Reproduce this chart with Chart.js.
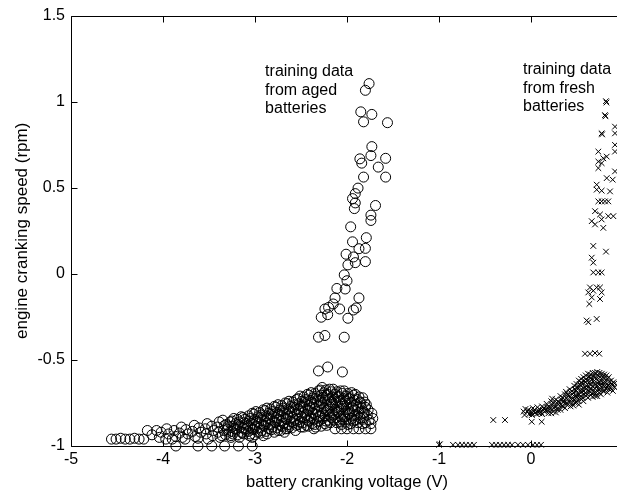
<!DOCTYPE html>
<html>
<head>
<meta charset="utf-8">
<script src="https://cdn.jsdelivr.net/npm/chart.js@4/dist/chart.umd.min.js"></script>
<style>
  html, body { margin: 0; padding: 0; overflow: hidden; background: #fff; }
  canvas { display: block; }
</style>
</head>
<body>
<canvas id="grafico" width="640" height="494"></canvas>
<script>
// --- Dados ---
const ticksX = [-5, -4, -3, -2, -1, 0, 1];
const ticksY = [-1, -0.5, 0, 0.5, 1, 1.5];

// baterias velhas: coluna vertical
const velhasColuna = [
  [-1.76, 1.105], [-1.80, 1.066], [-1.85, 0.941], [-1.73, 0.926], [-1.82, 0.883], [-1.56, 0.878],
  [-1.73, 0.739], [-1.74, 0.687], [-1.86, 0.668], [-1.58, 0.671], [-1.84, 0.643], [-1.66, 0.620],
  [-1.58, 0.562], [-1.82, 0.562], [-1.88, 0.498], [-1.91, 0.466], [-1.94, 0.437], [-1.91, 0.412],
  [-1.92, 0.379], [-1.69, 0.397], [-1.74, 0.341], [-1.74, 0.310], [-1.96, 0.273], [-1.79, 0.210],
  [-1.94, 0.186], [-1.87, 0.146], [-1.80, 0.148], [-2.01, 0.114], [-1.93, 0.098], [-1.99, 0.052],
  [-1.91, 0.065], [-1.80, 0.071], [-2.03, -0.006], [-2.00, -0.040], [-2.02, -0.088], [-2.11, -0.085],
  [-1.87, -0.140], [-2.13, -0.140], [-2.15, -0.175], [-2.20, -0.195], [-2.24, -0.204], [-2.08, -0.204],
  [-1.90, -0.198], [-1.93, -0.210], [-2.21, -0.237], [-2.28, -0.252], [-1.99, -0.258], [-2.31, -0.368],
  [-2.24, -0.358], [-2.03, -0.368], [-2.31, -0.564], [-2.21, -0.541], [-2.05, -0.570]
];

// baterias velhas: faixa densa embaixo
const velhasFaixa = [
  [-4.56, -0.96], [-4.51, -0.96], [-4.46, -0.955], [-4.41, -0.96], [-4.36, -0.96], [-4.31, -0.955],
  [-4.26, -0.96], [-4.21, -0.96], [-4.17, -0.91], [-4.07, -0.91], [-4.12, -0.935], [-4.02, -0.92], [-4.04, -0.95],
  [-3.96, -0.90], [-3.94, -0.93], [-3.97, -0.96],
  [-3.88, -0.91], [-3.86, -0.945], [-3.90, -0.96],
  [-3.80, -0.89], [-3.82, -0.925], [-3.79, -0.95],
  [-3.75, -0.905], [-3.73, -0.93], [-3.76, -0.96],
  [-3.66, -0.88], [-3.68, -0.915], [-3.65, -0.945],
  [-3.61, -0.895], [-3.59, -0.92], [-3.62, -0.955],
  [-3.52, -0.87], [-3.54, -0.90], [-3.53, -0.93], [-3.51, -0.96],
  [-3.47, -0.885], [-3.45, -0.91], [-3.46, -0.94],
  [-3.39, -0.86], [-3.41, -0.89], [-3.40, -0.92], [-3.38, -0.95],
  [-3.35, -0.85], [-3.33, -0.88], [-3.34, -0.91], [-3.36, -0.94],
  [-3.27, -0.86], [-3.29, -0.885], [-3.28, -0.92], [-3.26, -0.95],
  [-3.23, -0.84], [-3.21, -0.87], [-3.22, -0.90], [-3.24, -0.93],
  [-3.15, -0.83], [-3.17, -0.86], [-3.16, -0.89], [-3.14, -0.92], [-3.17, -0.95],
  [-3.11, -0.845], [-3.09, -0.87], [-3.10, -0.90], [-3.12, -0.93],
  [-3.03, -0.81], [-3.05, -0.84], [-3.04, -0.87], [-3.02, -0.90], [-3.05, -0.93], [-3.03, -0.95],
  [-2.99, -0.80], [-2.97, -0.83], [-2.98, -0.86], [-3.00, -0.89], [-2.97, -0.92],
  [-2.91, -0.79], [-2.93, -0.82], [-2.92, -0.85], [-2.90, -0.88], [-2.93, -0.91], [-2.91, -0.94],
  [-2.87, -0.78], [-2.85, -0.81], [-2.86, -0.84], [-2.88, -0.87], [-2.85, -0.90], [-2.87, -0.93],
  [-2.79, -0.77], [-2.81, -0.80], [-2.80, -0.83], [-2.78, -0.86], [-2.81, -0.89], [-2.79, -0.92],
  [-2.75, -0.76], [-2.73, -0.79], [-2.74, -0.82], [-2.76, -0.85], [-2.73, -0.88], [-2.75, -0.91],
  [-2.67, -0.75], [-2.69, -0.78], [-2.68, -0.81], [-2.66, -0.84], [-2.69, -0.87], [-2.67, -0.90], [-2.68, -0.92],
  [-2.63, -0.74], [-2.61, -0.77], [-2.62, -0.80], [-2.64, -0.83], [-2.61, -0.86], [-2.63, -0.89],
  [-2.55, -0.73], [-2.57, -0.76], [-2.56, -0.79], [-2.54, -0.82], [-2.57, -0.85], [-2.55, -0.88], [-2.56, -0.91],
  [-2.51, -0.71], [-2.49, -0.74], [-2.50, -0.77], [-2.52, -0.80], [-2.49, -0.83], [-2.51, -0.86], [-2.50, -0.89],
  [-2.43, -0.70], [-2.45, -0.73], [-2.44, -0.76], [-2.42, -0.79], [-2.45, -0.82], [-2.43, -0.85], [-2.44, -0.88],
  [-2.39, -0.69], [-2.37, -0.72], [-2.38, -0.75], [-2.40, -0.78], [-2.37, -0.81], [-2.39, -0.84], [-2.38, -0.87], [-2.36, -0.90],
  [-2.31, -0.68], [-2.33, -0.71], [-2.32, -0.74], [-2.30, -0.77], [-2.33, -0.80], [-2.31, -0.83], [-2.32, -0.86], [-2.34, -0.89],
  [-2.27, -0.66], [-2.25, -0.69], [-2.26, -0.72], [-2.28, -0.75], [-2.25, -0.78], [-2.27, -0.81], [-2.26, -0.84], [-2.24, -0.87],
  [-2.19, -0.67], [-2.21, -0.70], [-2.20, -0.73], [-2.18, -0.76], [-2.21, -0.79], [-2.19, -0.82], [-2.20, -0.85], [-2.22, -0.88],
  [-2.15, -0.67], [-2.13, -0.70], [-2.14, -0.73], [-2.16, -0.76], [-2.13, -0.79], [-2.15, -0.82], [-2.14, -0.85], [-2.13, -0.90],
  [-2.07, -0.68], [-2.09, -0.71], [-2.08, -0.74], [-2.06, -0.77], [-2.09, -0.80], [-2.07, -0.83], [-2.08, -0.86], [-2.06, -0.90],
  [-2.03, -0.68], [-2.01, -0.71], [-2.02, -0.74], [-2.04, -0.77], [-2.01, -0.80], [-2.03, -0.83], [-2.02, -0.86], [-2.00, -0.90],
  [-1.95, -0.69], [-1.97, -0.72], [-1.96, -0.75], [-1.94, -0.78], [-1.97, -0.81], [-1.95, -0.84], [-1.96, -0.87], [-1.93, -0.90],
  [-1.91, -0.70], [-1.89, -0.73], [-1.90, -0.76], [-1.92, -0.79], [-1.89, -0.82], [-1.91, -0.85], [-1.87, -0.90],
  [-1.83, -0.72], [-1.85, -0.75], [-1.84, -0.78], [-1.82, -0.81], [-1.85, -0.84], [-1.83, -0.87], [-1.80, -0.90],
  [-1.79, -0.76], [-1.77, -0.79], [-1.78, -0.82], [-1.76, -0.85], [-1.74, -0.90],
  [-1.73, -0.81], [-1.72, -0.84], [-1.74, -0.87],
  [-3.86, -1.0], [-3.62, -1.0], [-3.47, -1.0], [-3.33, -1.0], [-3.18, -1.0], [-3.03, -1.0]
];

// baterias velhas: miolo da faixa (parte mais escura)
const velhasMiolo = [
  [-3.31, -0.875], [-3.30, -0.905], [-3.32, -0.935],
  [-3.25, -0.855], [-3.24, -0.885], [-3.25, -0.915], [-3.26, -0.94],
  [-3.19, -0.845], [-3.18, -0.875], [-3.20, -0.905], [-3.19, -0.935],
  [-3.13, -0.835], [-3.12, -0.865], [-3.13, -0.895], [-3.14, -0.925],
  [-3.07, -0.825], [-3.06, -0.855], [-3.08, -0.885], [-3.07, -0.915], [-3.06, -0.94],
  [-3.01, -0.815], [-3.00, -0.845], [-3.01, -0.875], [-3.02, -0.905], [-3.00, -0.935],
  [-2.95, -0.805], [-2.94, -0.835], [-2.96, -0.865], [-2.95, -0.895], [-2.94, -0.925],
  [-2.89, -0.795], [-2.88, -0.825], [-2.89, -0.855], [-2.90, -0.885], [-2.88, -0.915],
  [-2.83, -0.785], [-2.82, -0.815], [-2.84, -0.845], [-2.83, -0.875], [-2.82, -0.905],
  [-2.77, -0.775], [-2.76, -0.805], [-2.77, -0.835], [-2.78, -0.865], [-2.76, -0.895],
  [-2.71, -0.765], [-2.70, -0.795], [-2.72, -0.825], [-2.71, -0.855], [-2.70, -0.885], [-2.72, -0.91],
  [-2.65, -0.755], [-2.64, -0.785], [-2.65, -0.815], [-2.66, -0.845], [-2.64, -0.875], [-2.65, -0.90],
  [-2.59, -0.745], [-2.58, -0.775], [-2.60, -0.805], [-2.59, -0.835], [-2.58, -0.865], [-2.60, -0.895],
  [-2.53, -0.725], [-2.52, -0.755], [-2.53, -0.785], [-2.54, -0.815], [-2.52, -0.845], [-2.53, -0.875],
  [-2.47, -0.715], [-2.46, -0.745], [-2.48, -0.775], [-2.47, -0.805], [-2.46, -0.835], [-2.48, -0.865], [-2.47, -0.89],
  [-2.41, -0.705], [-2.40, -0.735], [-2.41, -0.765], [-2.42, -0.795], [-2.40, -0.825], [-2.41, -0.855], [-2.42, -0.885],
  [-2.35, -0.695], [-2.34, -0.725], [-2.36, -0.755], [-2.35, -0.785], [-2.34, -0.815], [-2.36, -0.845], [-2.35, -0.875],
  [-2.29, -0.675], [-2.28, -0.705], [-2.29, -0.735], [-2.30, -0.765], [-2.28, -0.795], [-2.29, -0.825], [-2.30, -0.855], [-2.28, -0.885],
  [-2.23, -0.675], [-2.22, -0.705], [-2.24, -0.735], [-2.23, -0.765], [-2.22, -0.795], [-2.24, -0.825], [-2.23, -0.855],
  [-2.17, -0.685], [-2.16, -0.715], [-2.17, -0.745], [-2.18, -0.775], [-2.16, -0.805], [-2.17, -0.835], [-2.18, -0.865],
  [-2.11, -0.685], [-2.10, -0.715], [-2.12, -0.745], [-2.11, -0.775], [-2.10, -0.805], [-2.12, -0.835], [-2.11, -0.865],
  [-2.05, -0.695], [-2.04, -0.725], [-2.05, -0.755], [-2.06, -0.785], [-2.04, -0.815], [-2.05, -0.845], [-2.06, -0.875],
  [-1.99, -0.695], [-1.98, -0.725], [-2.00, -0.755], [-1.99, -0.785], [-1.98, -0.815], [-2.00, -0.845], [-1.99, -0.875],
  [-1.93, -0.705], [-1.92, -0.735], [-1.93, -0.765], [-1.94, -0.795], [-1.92, -0.825], [-1.93, -0.855],
  [-1.87, -0.715], [-1.86, -0.745], [-1.88, -0.775], [-1.87, -0.805], [-1.86, -0.835], [-1.88, -0.865],
  [-1.81, -0.745], [-1.80, -0.775], [-1.81, -0.805], [-1.82, -0.835], [-1.80, -0.865]
];

// baterias novas: subida vertical
const novasSubida = [
  [0.815, 1.003], [0.82, 0.995], [0.804, 0.922], [0.81, 0.915], [0.913, 0.855], [0.768, 0.816], [0.773, 0.81],
  [0.913, 0.816], [0.913, 0.749], [0.913, 0.710], [0.732, 0.710], [0.786, 0.671], [0.823, 0.681],
  [0.732, 0.652], [0.768, 0.643], [0.732, 0.614], [0.913, 0.595], [0.823, 0.556], [0.888, 0.547],
  [0.714, 0.518], [0.714, 0.489], [0.768, 0.483], [0.859, 0.479], [0.732, 0.421], [0.768, 0.421],
  [0.804, 0.421], [0.840, 0.421], [0.696, 0.364], [0.750, 0.345], [0.840, 0.335], [0.895, 0.335],
  [0.660, 0.306], [0.696, 0.287], [0.768, 0.316], [0.786, 0.267], [0.677, 0.162], [0.815, 0.129],
  [0.660, 0.094], [0.677, 0.065], [0.677, 0.008], [0.732, 0.008], [0.768, 0.008], [0.641, -0.079],
  [0.677, -0.098], [0.623, -0.108], [0.714, -0.079], [0.750, -0.079], [0.768, -0.108], [0.660, -0.137],
  [0.750, -0.146], [0.634, -0.175], [0.605, -0.271], [0.623, -0.281], [0.714, -0.262], [0.587, -0.464],
  [0.641, -0.464], [0.696, -0.460], [0.742, -0.464]
];

// baterias novas: nuvem densa
const novasNuvem = [
  [-0.08, -0.80], [-0.07, -0.82], [-0.06, -0.785],
  [-0.03, -0.79], [-0.02, -0.815], [-0.04, -0.80],
  [0.02, -0.78], [0.03, -0.80], [0.01, -0.82], [0.04, -0.79],
  [0.07, -0.775], [0.08, -0.795], [0.06, -0.815], [0.09, -0.81],
  [0.12, -0.77], [0.13, -0.79], [0.11, -0.805], [0.14, -0.78], [0.12, -0.815],
  [0.17, -0.755], [0.18, -0.775], [0.16, -0.795], [0.19, -0.81], [0.17, -0.79],
  [0.22, -0.74], [0.23, -0.76], [0.21, -0.78], [0.24, -0.80], [0.22, -0.81], [0.23, -0.725],
  [0.27, -0.73], [0.28, -0.75], [0.26, -0.77], [0.29, -0.79], [0.27, -0.805],
  [0.32, -0.71], [0.33, -0.73], [0.31, -0.75], [0.34, -0.77], [0.32, -0.79],
  [0.37, -0.70], [0.38, -0.72], [0.36, -0.74], [0.39, -0.76], [0.37, -0.78], [0.38, -0.685],
  [0.42, -0.67], [0.43, -0.69], [0.41, -0.71], [0.44, -0.73], [0.42, -0.75], [0.43, -0.77],
  [0.47, -0.65], [0.48, -0.67], [0.46, -0.69], [0.49, -0.71], [0.47, -0.73], [0.48, -0.75], [0.46, -0.765],
  [0.52, -0.62], [0.53, -0.64], [0.51, -0.66], [0.54, -0.68], [0.52, -0.70], [0.53, -0.72], [0.51, -0.74], [0.52, -0.76],
  [0.57, -0.60], [0.58, -0.62], [0.56, -0.64], [0.59, -0.66], [0.57, -0.68], [0.58, -0.70], [0.56, -0.72], [0.57, -0.74],
  [0.62, -0.58], [0.63, -0.60], [0.61, -0.62], [0.64, -0.64], [0.62, -0.66], [0.63, -0.68], [0.61, -0.70], [0.62, -0.72],
  [0.67, -0.575], [0.68, -0.595], [0.66, -0.615], [0.69, -0.635], [0.67, -0.655], [0.68, -0.675], [0.66, -0.695], [0.67, -0.715],
  [0.72, -0.57], [0.73, -0.59], [0.71, -0.61], [0.74, -0.63], [0.72, -0.65], [0.73, -0.67], [0.71, -0.69], [0.72, -0.71],
  [0.77, -0.58], [0.78, -0.60], [0.76, -0.62], [0.79, -0.64], [0.77, -0.66], [0.78, -0.68], [0.76, -0.70],
  [0.82, -0.59], [0.83, -0.61], [0.81, -0.63], [0.84, -0.65], [0.82, -0.67], [0.83, -0.69],
  [0.87, -0.62], [0.88, -0.64], [0.86, -0.66], [0.89, -0.68],
  [0.91, -0.635], [0.91, -0.66],
  [0.00, -0.80], [0.05, -0.805], [0.10, -0.79], [0.145, -0.80], [0.195, -0.77], [0.20, -0.79],
  [0.245, -0.75], [0.25, -0.78], [0.295, -0.74], [0.30, -0.76], [0.29, -0.78], [0.345, -0.72],
  [0.35, -0.745], [0.34, -0.765], [0.395, -0.70], [0.40, -0.73], [0.39, -0.75],
  [0.445, -0.68], [0.45, -0.70], [0.44, -0.72], [0.45, -0.75], [0.495, -0.64], [0.50, -0.66],
  [0.49, -0.68], [0.50, -0.70], [0.495, -0.72], [0.49, -0.745],
  [0.545, -0.61], [0.55, -0.63], [0.54, -0.65], [0.55, -0.67], [0.545, -0.69], [0.54, -0.71], [0.55, -0.73],
  [0.595, -0.59], [0.60, -0.61], [0.59, -0.63], [0.60, -0.65], [0.595, -0.67], [0.59, -0.69], [0.60, -0.71],
  [0.645, -0.585], [0.65, -0.605], [0.64, -0.625], [0.65, -0.645], [0.645, -0.665], [0.64, -0.685], [0.65, -0.705],
  [0.695, -0.575], [0.70, -0.60], [0.69, -0.62], [0.70, -0.645], [0.695, -0.665], [0.69, -0.69], [0.70, -0.71],
  [0.745, -0.575], [0.75, -0.60], [0.74, -0.625], [0.75, -0.645], [0.745, -0.67], [0.74, -0.69],
  [0.795, -0.585], [0.80, -0.61], [0.79, -0.63], [0.80, -0.655], [0.795, -0.68],
  [0.845, -0.60], [0.85, -0.625], [0.84, -0.645], [0.85, -0.67],
  [0.895, -0.63], [0.90, -0.655]
];

// baterias novas: pontos soltos e linha no eixo
const novasSoltas = [
  [-0.41, -0.849], [-0.283, -0.849], [0.008, -0.810], [0.008, -0.859], [0.116, -0.859],
  [-1.0, -0.993], [-0.99, -0.99],
  [-0.848, -0.993], [-0.793, -0.993], [-0.75, -0.993], [-0.707, -0.993], [-0.663, -0.993], [-0.62, -0.993],
  [-0.424, -0.993], [-0.38, -0.993], [-0.337, -0.993], [-0.293, -0.993], [-0.25, -0.993], [-0.207, -0.993],
  [-0.141, -0.993], [-0.087, -0.993], [-0.033, -0.993], [0.022, -0.993], [0.065, -0.993], [0.109, -0.993]
];

const notas = [
  { x: -2.89, y: 1.172, linhas: ["training data", "from aged", "batteries"] },
  { x: -0.087, y: 1.185, linhas: ["training data", "from fresh", "batteries"] }
];

const fonte = '"Liberation Sans", Arial, Helvetica, sans-serif';
const pontos = lista => lista.map(([x, y]) => ({ x, y }));

// --- Moldura com ticks para dentro (estilo MATLAB) + textos ---
const moldura = {
  id: "moldura",
  afterDatasetsDraw(chart) {
    const { ctx, chartArea: a, scales } = chart;
    const t = 6;
    ctx.save();
    ctx.strokeStyle = "#000";
    ctx.lineWidth = 1;
    const L = Math.round(a.left) + 0.5, R = Math.round(a.right) + 0.5;
    const T = Math.round(a.top) + 0.5, B = Math.round(a.bottom) + 0.5;
    ctx.beginPath();
    ctx.rect(L, T, R - L, B - T);
    ticksX.forEach(v => {
      const px = Math.round(scales.x.getPixelForValue(v)) + 0.5;
      ctx.moveTo(px, B); ctx.lineTo(px, B - t);
      ctx.moveTo(px, T); ctx.lineTo(px, T + t);
    });
    ticksY.forEach(v => {
      const py = Math.round(scales.y.getPixelForValue(v)) + 0.5;
      ctx.moveTo(L, py); ctx.lineTo(L + t, py);
      ctx.moveTo(R, py); ctx.lineTo(R - t, py);
    });
    ctx.stroke();

    ctx.fillStyle = "#000";
    ctx.font = "16px " + fonte;
    ctx.textBaseline = "middle";
    ctx.textAlign = "left";
    notas.forEach(n => {
      const px = scales.x.getPixelForValue(n.x);
      const py = scales.y.getPixelForValue(n.y);
      n.linhas.forEach((txt, i) => ctx.fillText(txt, px, py + i * 18.5));
    });
    ctx.restore();
  }
};

const ctx = document.getElementById("grafico").getContext("2d");

new Chart(ctx, {
  type: "scatter",
  data: {
    datasets: [
      {
        label: "aged",
        data: pontos(velhasColuna.concat(velhasFaixa, velhasMiolo)),
        pointStyle: "circle",
        pointRadius: 5,
        borderColor: "#000",
        backgroundColor: "rgba(0,0,0,0)",
        borderWidth: 1,
        clip: false
      },
      {
        label: "fresh",
        data: pontos(novasSubida.concat(novasNuvem, novasSoltas)),
        pointStyle: "crossRot",
        pointRadius: 4,
        borderColor: "#000",
        backgroundColor: "#000",
        borderWidth: 1,
        clip: false
      }
    ]
  },
  options: {
    responsive: false,
    animation: false,
    devicePixelRatio: 1,
    layout: { padding: { top: 13, right: 17, left: 0, bottom: 0 } },
    plugins: { legend: { display: false }, tooltip: { enabled: false } },
    scales: {
      x: {
        type: "linear",
        min: -5,
        max: 1,
        grid: { display: false, drawTicks: false },
        border: { display: false },
        afterBuildTicks: s => { s.ticks = ticksX.map(v => ({ value: v })); },
        ticks: { color: "#000", font: { size: 16, family: fonte }, padding: 4, maxRotation: 0, autoSkip: false, callback: v => String(v) },
        title: { display: true, text: "battery cranking voltage (V)", color: "#000", font: { size: 16.5, family: fonte }, padding: { top: 0, bottom: 2 } },
        afterFit: s => { s.height = 48; }
      },
      y: {
        type: "linear",
        min: -1,
        max: 1.5,
        grid: { display: false, drawTicks: false },
        border: { display: false },
        afterBuildTicks: s => { s.ticks = ticksY.map(v => ({ value: v })); },
        ticks: { color: "#000", font: { size: 16, family: fonte }, padding: 6, autoSkip: false, callback: v => String(v) },
        title: { display: true, text: "engine cranking speed (rpm)", color: "#000", font: { size: 17, family: fonte }, padding: { top: 12, bottom: 0 } },
        afterFit: s => { s.width = 71; }
      }
    }
  },
  plugins: [moldura]
});
</script>
</body>
</html>
